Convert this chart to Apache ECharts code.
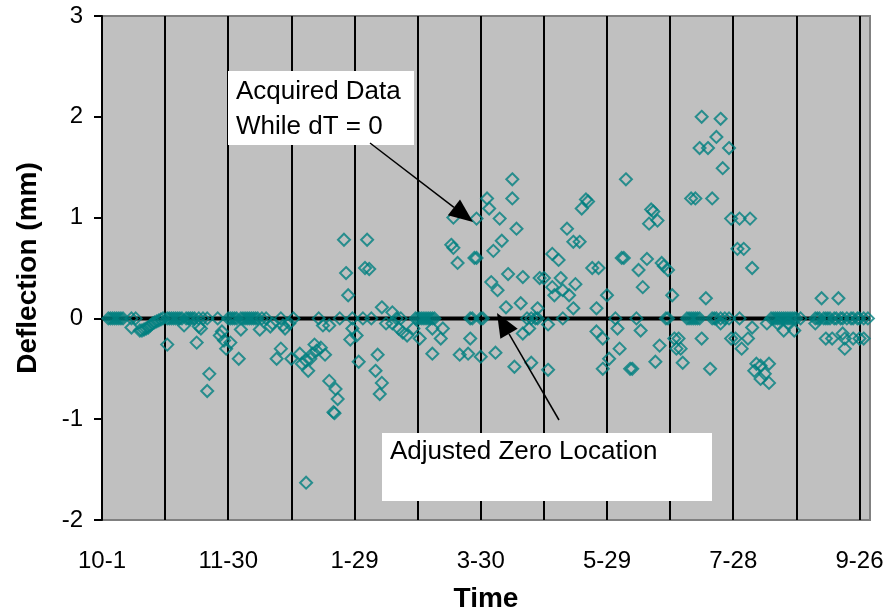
<!DOCTYPE html>
<html lang="en">
<head>
    <meta charset="utf-8">
    <title>Deflection vs Time</title>
    <script src="https://cdn.jsdelivr.net/npm/echarts@6/dist/echarts.min.js"></script>
    <style>
        html, body { margin: 0; padding: 0; background: #fff; }
        #chart { width: 888px; height: 611px; }
    </style>
</head>
<body>
<div id="chart"></div>
<script type="text/javascript">
    // x = days after 10-1, y = deflection in mm
    var tickLabels = ['10-1', '11-30', '1-29', '3-30', '5-29', '7-28', '9-26'];
    var zeroLine = [[0, 0], [365, 0]];

    var octNov = [
        [3, 0], [4, 0], [5, 0], [6, 0], [7, 0], [8, 0], [9, 0], [10, 0],
        [14, 0], [16, 0], [14, -0.09],
        [18, -0.12], [19, -0.12], [20, -0.11], [21, -0.1], [22, -0.09], [23, -0.07], [24, -0.05],
        [25, -0.04], [26, -0.03], [27, -0.02], [28, -0.01], [29, 0],
        [31, 0], [32, 0], [33, 0], [34, 0], [35, 0], [36, 0], [37, 0], [38, 0], [40, 0], [41, 0],
        [42, 0], [43, 0], [44, 0], [46, 0], [48, 0], [50, 0],
        [31, -0.26], [39, -0.07], [45, -0.24], [46, -0.08], [47, -0.1],
        [51, -0.55], [50, -0.72],
        [55, 0], [56, -0.17], [57, -0.13], [58, -0.22], [59, -0.3]
    ];
    var decJan = [
        [60, 0], [61, 0], [62, 0], [63, 0], [64, 0], [66, 0], [67, 0], [68, 0], [69, 0], [70, 0],
        [71, 0], [72, 0], [73, 0], [74, 0], [76, 0], [78, 0],
        [61, -0.24], [65, -0.4], [66, -0.11], [75, -0.11], [80, -0.08], [81, -0.05], [85, 0],
        [86, -0.07], [87, -0.1], [89, -0.05], [91, 0],
        [85, -0.3], [83, -0.4], [90, -0.4],
        [94, -0.35], [95, -0.45], [97, -0.42], [98, -0.52], [99, -0.4], [100, -0.35], [102, -0.32],
        [104, -0.29], [101, -0.26], [106, -0.36], [108, -0.62],
        [97, -1.63],
        [103, 0], [105, -0.07], [108, -0.07], [113, 0],
        [111, -0.7], [112, -0.8], [110, -0.93], [110.5, -0.94],
        [115, 0.78], [116, 0.45], [117, 0.23], [119, 0], [119, -0.1], [118, -0.21], [121, -0.17], [122, -0.43]
    ];
    var febMar = [
        [124, 0], [126, 0.78], [125, 0.5], [127, 0.49], [128, 0], [131, -0.36], [130, -0.52],
        [133, -0.64], [132, -0.75], [133, 0.11], [135, -0.05], [138, 0.06], [140, 0], [142, 0],
        [138, -0.05], [141, -0.1], [143, -0.14], [145, -0.17], [148, -0.1], [151, -0.2],
        [149, 0], [150, 0], [151, 0], [152, 0], [153, 0], [154, 0], [155, 0], [156, 0], [157, 0], [158, 0],
        [157, -0.1], [162, -0.1], [161, -0.2], [175, 0], [175, -0.2], [180, 0],
        [157, -0.35], [167, 1.0], [166, 0.73], [167, 0.7], [169, 0.55], [178, 0.99], [177, 0.6],
        [178, 0.6], [170, -0.36], [174, -0.35], [176, 0], [180, -0.38]
    ];
    var aprMay = [
        [181, 0], [183, 1.19], [184, 1.09], [195, 1.19], [195, 1.38], [189, 0.99], [197, 0.89],
        [190, 0.77], [186, 0.67], [185, 0.36], [188, 0.28], [193, 0.44], [200, 0.41], [192, 0.11],
        [199, 0.15], [187, -0.34],
        [202, 0], [204, 0], [206, 0], [207, 0], [200, -0.15], [203, -0.1], [207, 0.1], [212, -0.06],
        [196, -0.48], [204, -0.44], [212, -0.51],
        [208, 0.4], [210, 0.4], [214, 0.64], [217, 0.58], [218, 0.4], [214, 0.31], [215, 0.23],
        [219, 0.28], [222, 0.23], [225, 0.34], [224, 0.1], [219, 0],
        [221, 0.89], [224, 0.76], [227, 0.76], [228, 1.09], [230, 1.18], [231, 1.16], [233, 0.5],
        [236, 0.5], [240, 0.23], [235, 0.1], [235, -0.13], [238, -0.2]
    ];
    var junJul = [
        [244, 0], [245, -0.1], [246, -0.3], [241, -0.4], [238, -0.5], [251, -0.5], [252, -0.5],
        [254, 0], [256, -0.12],
        [247, 0.6], [248, 0.6], [255, 0.48], [257, 0.31], [259, 0.59], [261, 1.08], [262, 1.06],
        [260, 0.94], [264, 0.97], [249, 1.38],
        [266, 0.55], [267, 0.52], [269, 0.48], [271, 0.23], [268, 0], [269, 0], [265, -0.27],
        [263, -0.43], [272, -0.2], [273, -0.3],
        [278, 0], [279, 0], [280, 0], [281, 0], [282, 0], [283, 0], [284, 0],
        [280, 1.19], [282, 1.19], [290, 1.19], [285, 2.0], [294, 1.98], [292, 1.8], [284, 1.69],
        [288, 1.69], [298, 1.69], [295, 1.49], [287, 0.2],
        [290, 0], [291, 0], [292, 0], [294, 0], [296, 0], [298, 0], [294, -0.05],
        [274, -0.2], [275, -0.3], [276, -0.44], [285, -0.2], [289, -0.5]
    ];
    var augSep = [
        [299, 0.99], [303, 0.99], [308, 0.99], [302, 0.69], [305, 0.69], [309, 0.5], [303, 0],
        [299, -0.2], [301, -0.2], [307, -0.2], [309, -0.09], [304, -0.3],
        [311, -0.45], [313, -0.47], [317, -0.45], [310, -0.52], [315, -0.55], [313, -0.6], [317, -0.64],
        [316, -0.05], [318, 0], [319, 0], [320, 0], [321, 0], [322, 0], [323, 0], [324, 0], [325, 0],
        [326, 0], [327, 0], [328, 0], [329, 0], [330, 0], [332, 0],
        [324, -0.12], [329, -0.12], [321, -0.05], [326, -0.05], [339, -0.05],
        [339, 0], [340, 0], [341, 0], [343, 0], [344, 0], [345, 0], [346, 0], [348, 0], [349, 0],
        [351, 0], [352, 0], [354, 0], [356, 0], [357, 0], [359, 0], [360, 0], [362, 0], [364, 0],
        [342, 0.2], [350, 0.2], [344, -0.2], [347, -0.2], [352, -0.15], [353, -0.2], [353, -0.3],
        [357, -0.2], [360, -0.2], [362, -0.2]
    ];
    var acquired = octNov.concat(decJan, febMar, aprMay, junJul, augSep);

    var font = 'Liberation Sans, Arial, sans-serif';

    // line with a filled head, from (x1,y1) to tip (x2,y2)
    function arrow(x1, y1, x2, y2) {
        var dx = x2 - x1, dy = y2 - y1;
        var len = Math.sqrt(dx * dx + dy * dy);
        var ux = dx / len, uy = dy / len;
        var hl = 24, hw = 10;
        var bx = x2 - ux * hl, by = y2 - uy * hl;
        return [
            {
                type: 'line', z: 20,
                shape: {x1: x1, y1: y1, x2: bx, y2: by},
                style: {stroke: '#000', lineWidth: 1.5}
            },
            {
                type: 'polygon', z: 20,
                shape: {points: [[x2, y2], [bx - uy * hw, by + ux * hw], [bx + uy * hw, by - ux * hw]]},
                style: {fill: '#000'}
            }
        ];
    }

    var myChart = echarts.init(document.getElementById('chart'));
    var option = {
        animation: false,
        backgroundColor: '#fff',
        grid: {
            left: 102, right: 18, top: 16, bottom: 91,
            outerBoundsMode: 'none',
            show: true,
            backgroundColor: '#c0c0c0',
            borderColor: '#808080',
            borderWidth: 2
        },
        xAxis: {
            type: 'value',
            min: 0, max: 365, interval: 30,
            name: 'Time',
            nameLocation: 'middle',
            nameGap: 65,
            nameTextStyle: {fontFamily: font, fontSize: 28, fontWeight: 'bold', color: '#000'},
            axisLine: {show: false},
            axisTick: {show: false},
            axisLabel: {
                margin: 29,
                fontFamily: font, fontSize: 24, color: '#000',
                formatter: function (v) {
                    return v % 60 === 0 ? tickLabels[v / 60] : '';
                }
            },
            splitLine: {
                show: true, showMinLine: false, showMaxLine: false,
                lineStyle: {color: '#000', width: 2}
            }
        },
        yAxis: {
            type: 'value',
            min: -2, max: 3, interval: 1,
            name: 'Deflection (mm)',
            nameLocation: 'middle',
            nameGap: 60,
            nameTextStyle: {fontFamily: font, fontSize: 28, fontWeight: 'bold', color: '#000'},
            axisLine: {show: true, lineStyle: {color: '#000', width: 2}},
            axisTick: {show: true, length: 8, lineStyle: {color: '#000', width: 2}},
            axisLabel: {margin: 19, fontFamily: font, fontSize: 24, color: '#000'},
            splitLine: {show: false}
        },
        graphic: [
            {
                type: 'rect', z: 10,
                shape: {x: 228, y: 71, width: 186, height: 74},
                style: {fill: '#fff'}
            },
            {
                type: 'text', z: 11,
                style: {
                    x: 236, y: 74, text: 'Acquired Data\nWhile dT = 0',
                    fontFamily: font, fontSize: 26, lineHeight: 35, fill: '#000'
                }
            },
            {
                type: 'rect', z: 10,
                shape: {x: 382, y: 433, width: 330, height: 68},
                style: {fill: '#fff'}
            },
            {
                type: 'text', z: 11,
                style: {
                    x: 390, y: 434, text: 'Adjusted Zero Location',
                    fontFamily: font, fontSize: 26, lineHeight: 35, fill: '#000'
                }
            }
        ].concat(arrow(370, 143, 473, 222), arrow(559, 420, 497, 313)),
        series: [
            {
                type: 'line',
                data: zeroLine,
                symbol: 'none',
                silent: true,
                z: 1,
                lineStyle: {color: '#000', width: 4}
            },
            {
                type: 'scatter',
                data: acquired,
                symbol: 'diamond',
                symbolSize: 12,
                z: 2,
                itemStyle: {color: 'rgba(0,0,0,0)', borderColor: '#008080', borderWidth: 2}
            }
        ]
    };
    myChart.setOption(option);
</script>
</body>
</html>
